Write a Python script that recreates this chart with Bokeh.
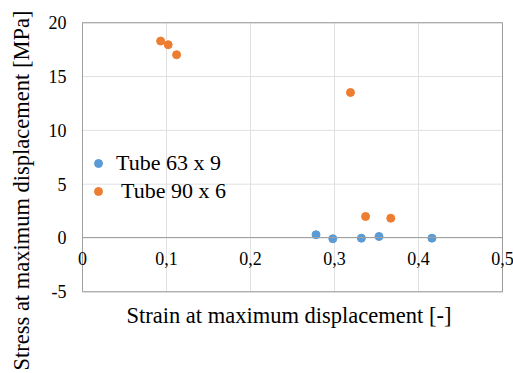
from bokeh.plotting import figure
from bokeh.models import (Legend, LegendItem, FixedTicker, Title, LabelSet, ColumnDataSource)
from bokeh.embed import file_html
from bokeh.resources import INLINE

# data
tube63_x = [0.278, 0.298, 0.332, 0.353, 0.416]
tube63_y = [0.3, -0.07, -0.02, 0.14, -0.02]
tube90_x = [0.093, 0.102, 0.112, 0.319, 0.337, 0.367]
tube90_y = [18.3, 17.96, 17.03, 13.52, 2.0, 1.84]
series_names = ["Tube 63 x 9", " Tube 90 x 6"]
x_ticks = [0, 0.1, 0.2, 0.3, 0.4, 0.5]
x_tick_labels = ["0", "0,1", "0,2", "0,3", "0,4", "0,5"]
y_ticks = [-5, 0, 5, 10, 15, 20]
y_tick_labels = ["-5", "0", "5", "10", "15", "20"]
x_title = "Strain at maximum displacement [-]"
y_title = "Stress at maximum displacement [MPa]"

FONT = "Liberation Serif"
BLUE = "#5B9BD5"
ORANGE = "#ED7D31"
AXIS = "#a0a0a0"
BORDER = "#9a9a9a"
GRID = "#e0e0e0"

x0, x1 = x_ticks[0], x_ticks[-1]
y0, y1 = y_ticks[0], y_ticks[-1]

# frame is a bit larger than the plot area so that edge tick labels are not clipped
p = figure(frame_width=475, frame_height=287,
           x_range=(-0.0524, 0.5131), y_range=(-5.81, 20.86),
           output_backend="svg", toolbar_location=None,
           min_border_left=38, min_border_right=0, min_border_top=13, min_border_bottom=72)
p.background_fill_color = "white"
p.border_fill_color = "white"
p.outline_line_color = None
p.xgrid.visible = False
p.ygrid.visible = False

# gridlines and plot-area border
p.segment(x0=x_ticks, y0=[y0] * len(x_ticks), x1=x_ticks, y1=[y1] * len(x_ticks),
          line_color=GRID, line_width=1)
p.segment(x0=[x0] * len(y_ticks), y0=y_ticks, x1=[x1] * len(y_ticks), y1=y_ticks,
          line_color=GRID, line_width=1)
p.quad(left=[x0], right=[x1], bottom=[y0], top=[y1], fill_alpha=0,
       line_color=BORDER, line_width=1)

# axes (lines only, crossing at the origin)
xa = p.xaxis[0]
xa.fixed_location = 0
xa.bounds = (x0, x1)
ya = p.yaxis[0]
ya.fixed_location = 0
ya.bounds = (y0, y1)
for ax in (xa, ya):
    ax.ticker = FixedTicker(ticks=[])
    ax.axis_line_color = AXIS
    ax.major_tick_line_color = None
    ax.minor_tick_line_color = None

# tick labels
xsrc = ColumnDataSource(dict(x=x_ticks, y=[0] * len(x_ticks), text=x_tick_labels))
ysrc = ColumnDataSource(dict(x=[0] * len(y_ticks), y=y_ticks, text=y_tick_labels))
p.add_layout(LabelSet(x="x", y="y", text="text", source=xsrc, y_offset=-21,
                      text_font=FONT, text_font_size="18px", text_align="center",
                      text_baseline="middle", text_color="#000000"))
p.add_layout(LabelSet(x="x", y="y", text="text", source=ysrc, x_offset=-16,
                      text_font=FONT, text_font_size="18px", text_align="right",
                      text_baseline="middle", text_color="#000000"))

r1 = p.scatter(tube63_x, tube63_y, size=8, color=BLUE, marker="circle")
r2 = p.scatter(tube90_x, tube90_y, size=8, color=ORANGE, marker="circle")

# axis titles
p.add_layout(Title(text=x_title, align="left", offset=88, standoff=0,
                   text_font=FONT, text_font_size="22.5px", text_font_style="normal",
                   text_color="#000000"), "below")
p.add_layout(Title(text=y_title, align="left", offset=-70, standoff=10,
                   text_font=FONT, text_font_size="22.5px", text_font_style="normal",
                   text_color="#000000"), "left")

legend = Legend(items=[LegendItem(label=series_names[0], renderers=[r1]),
                       LegendItem(label=series_names[1], renderers=[r2])],
                location=(50, 95), padding=0, spacing=0, margin=0,
                glyph_width=20, glyph_height=28, label_standoff=8,
                label_text_font=FONT, label_text_font_size="22px",
                label_text_color="#000000",
                background_fill_alpha=0, border_line_alpha=0)
p.add_layout(legend)

open("out.html", "w").write(file_html(p, INLINE))
